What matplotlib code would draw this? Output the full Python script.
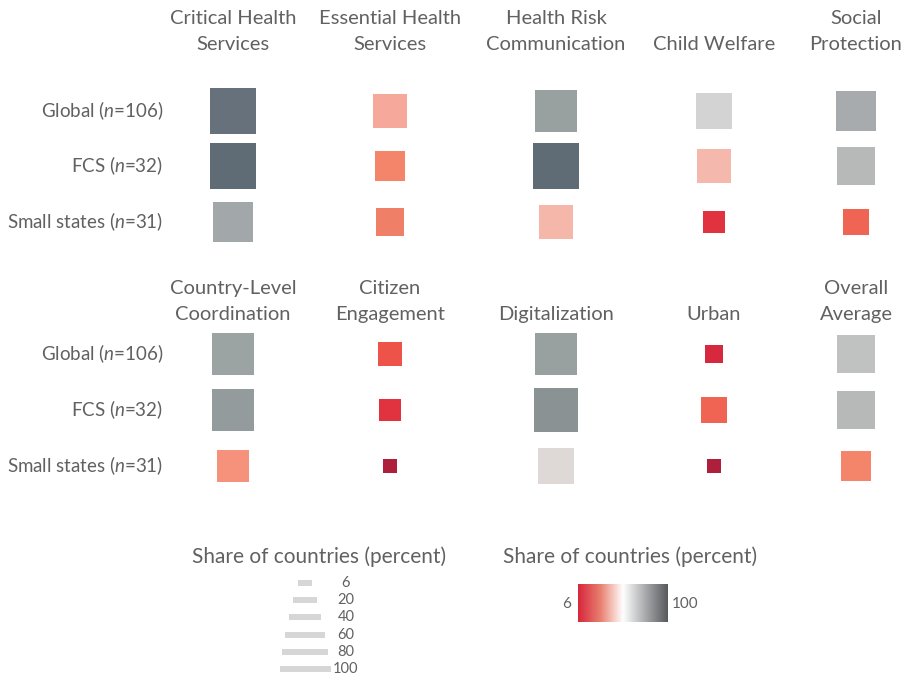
'''
heatmap-style square chart: share of countries per theme and country group
'''
import matplotlib
matplotlib.use('Agg')
import matplotlib.pyplot as plt
import numpy as np
from matplotlib.colors import LinearSegmentedColormap, Normalize
from matplotlib.patches import Rectangle

plt.rcParams['font.family'] = ['Lato', 'DejaVu Sans']
plt.rcParams['font.weight'] = 'normal'
plt.rcParams['mathtext.fontset'] = 'custom'
plt.rcParams['mathtext.rm'] = 'Lato'
plt.rcParams['mathtext.it'] = 'Lato:italic'

# ---- data ----
groups = ['Global ($\\mathit{n}$=106)', 'FCS ($\\mathit{n}$=32)', 'Small states ($\\mathit{n}$=31)']

top_themes = ['Critical Health\nServices', 'Essential Health\nServices', 'Health Risk\nCommunication',
              'Child Welfare', 'Social\nProtection']
bottom_themes = ['Country-Level\nCoordination', 'Citizen\nEngagement', 'Digitalization',
                 'Urban', 'Overall\nAverage']

# share of countries (percent) -> Global, FCS, Small states
critical_health = [80, 83, 62]
essential_health = [41, 34, 30]
health_risk = [65, 83, 44]
child_welfare = [48, 44.5, 18]
social_protection = [60, 56, 26]
country_coordination = [64, 68, 37.5]
citizen_engagement = [22, 18, 6]
digitalization = [65, 73, 47]
urban = [12, 26, 6]
overall_average = [53, 56, 34]

top_values = [critical_health, essential_health, health_risk, child_welfare, social_protection]
bottom_values = [country_coordination, citizen_engagement, digitalization, urban, overall_average]

legend_values = [6, 20, 40, 60, 80, 100]
vmin, vmax = 6, 100

# ---- styles / layout (pixels) ----
TEXT = '#616161'
col_x = [233, 390, 556, 714, 856]
top_rows_y = [111, 166, 222]
bottom_rows_y = [354, 410, 466]

color_nodes = [(6, '#ae1f3c'), (12, '#d7283e'), (18, '#e0333f'), (22, '#ee5449'),
               (26, '#ef6452'), (30, '#f07f68'), (34, '#f4856b'), (37.5, '#f6927d'),
               (41, '#f6a99a'), (44.5, '#f4b9ad'), (46, '#efe2de'), (47, '#dcd8d5'),
               (48, '#d3d3d3'), (53, '#c1c1c1'), (56, '#b8b9b9'), (60, '#a7abae'),
               (62, '#a2a7a9'), (65, '#98a0a0'), (70, '#8f9799'), (73, '#8a9293'),
               (80, '#66717b'), (83, '#5f6c76'), (100, '#4b555e')]
norm = Normalize(vmin, vmax)
cmap = LinearSegmentedColormap.from_list('share', [(norm(v), c) for v, c in color_nodes])
legend_cmap = LinearSegmentedColormap.from_list(
    'legend', ['#d7263d', '#e8806f', '#ffffff', '#a9aaad', '#58595c'])


def square_side(v):
    # side length in px, sqrt scale
    return 2 + 4.9 * np.sqrt(v)


fig = plt.figure(figsize=(9.07, 6.76), dpi=100)
ax = fig.add_axes([0, 0, 1, 1])


def draw_block(themes, values, rows_y, title_bottom):
    for i, theme in enumerate(themes):
        ax.text(col_x[i], title_bottom, theme, ha='center', va='bottom', fontsize=14.5,
                color=TEXT, linespacing=1.65)
        for j, v in enumerate(values[i]):
            s = square_side(v)
            ax.add_patch(Rectangle((col_x[i] - s / 2, rows_y[j] - s / 2), s, s,
                                   facecolor=cmap(norm(v)), edgecolor='none'))
    for j, g in enumerate(groups):
        ax.text(163, rows_y[j], g, ha='right', va='center', fontsize=13.5, color=TEXT)


draw_block(top_themes, top_values, top_rows_y, 53)
draw_block(bottom_themes, bottom_values, bottom_rows_y, 323)

# size legend
ax.text(319, 557, 'Share of countries (percent)', ha='center', va='center', fontsize=15, color=TEXT)
leg_y = 583 + np.arange(len(legend_values)) * 17.2
widths = [square_side(v) for v in legend_values]
ax.barh(leg_y, widths, left=305 - np.array(widths) / 2, height=6, color='#d6d6d6')
for y, v in zip(leg_y, legend_values):
    ax.text(346, y, str(v), ha='center', va='center', fontsize=10.5, color=TEXT)

# colour legend
ax.text(630, 557, 'Share of countries (percent)', ha='center', va='center', fontsize=15, color=TEXT)
gradient = np.linspace(vmin, vmax, 256).reshape(1, -1)
ax.imshow(gradient, extent=[578, 668, 622, 584], cmap=legend_cmap, aspect='auto')
ax.text(567, 604, '6', ha='center', va='center', fontsize=11, color=TEXT)
ax.text(685, 604, '100', ha='center', va='center', fontsize=11, color=TEXT)

ax.set_xlim(0, 907)
ax.set_ylim(676, 0)
ax.axis('off')

fig.savefig('out.png', dpi=100)
